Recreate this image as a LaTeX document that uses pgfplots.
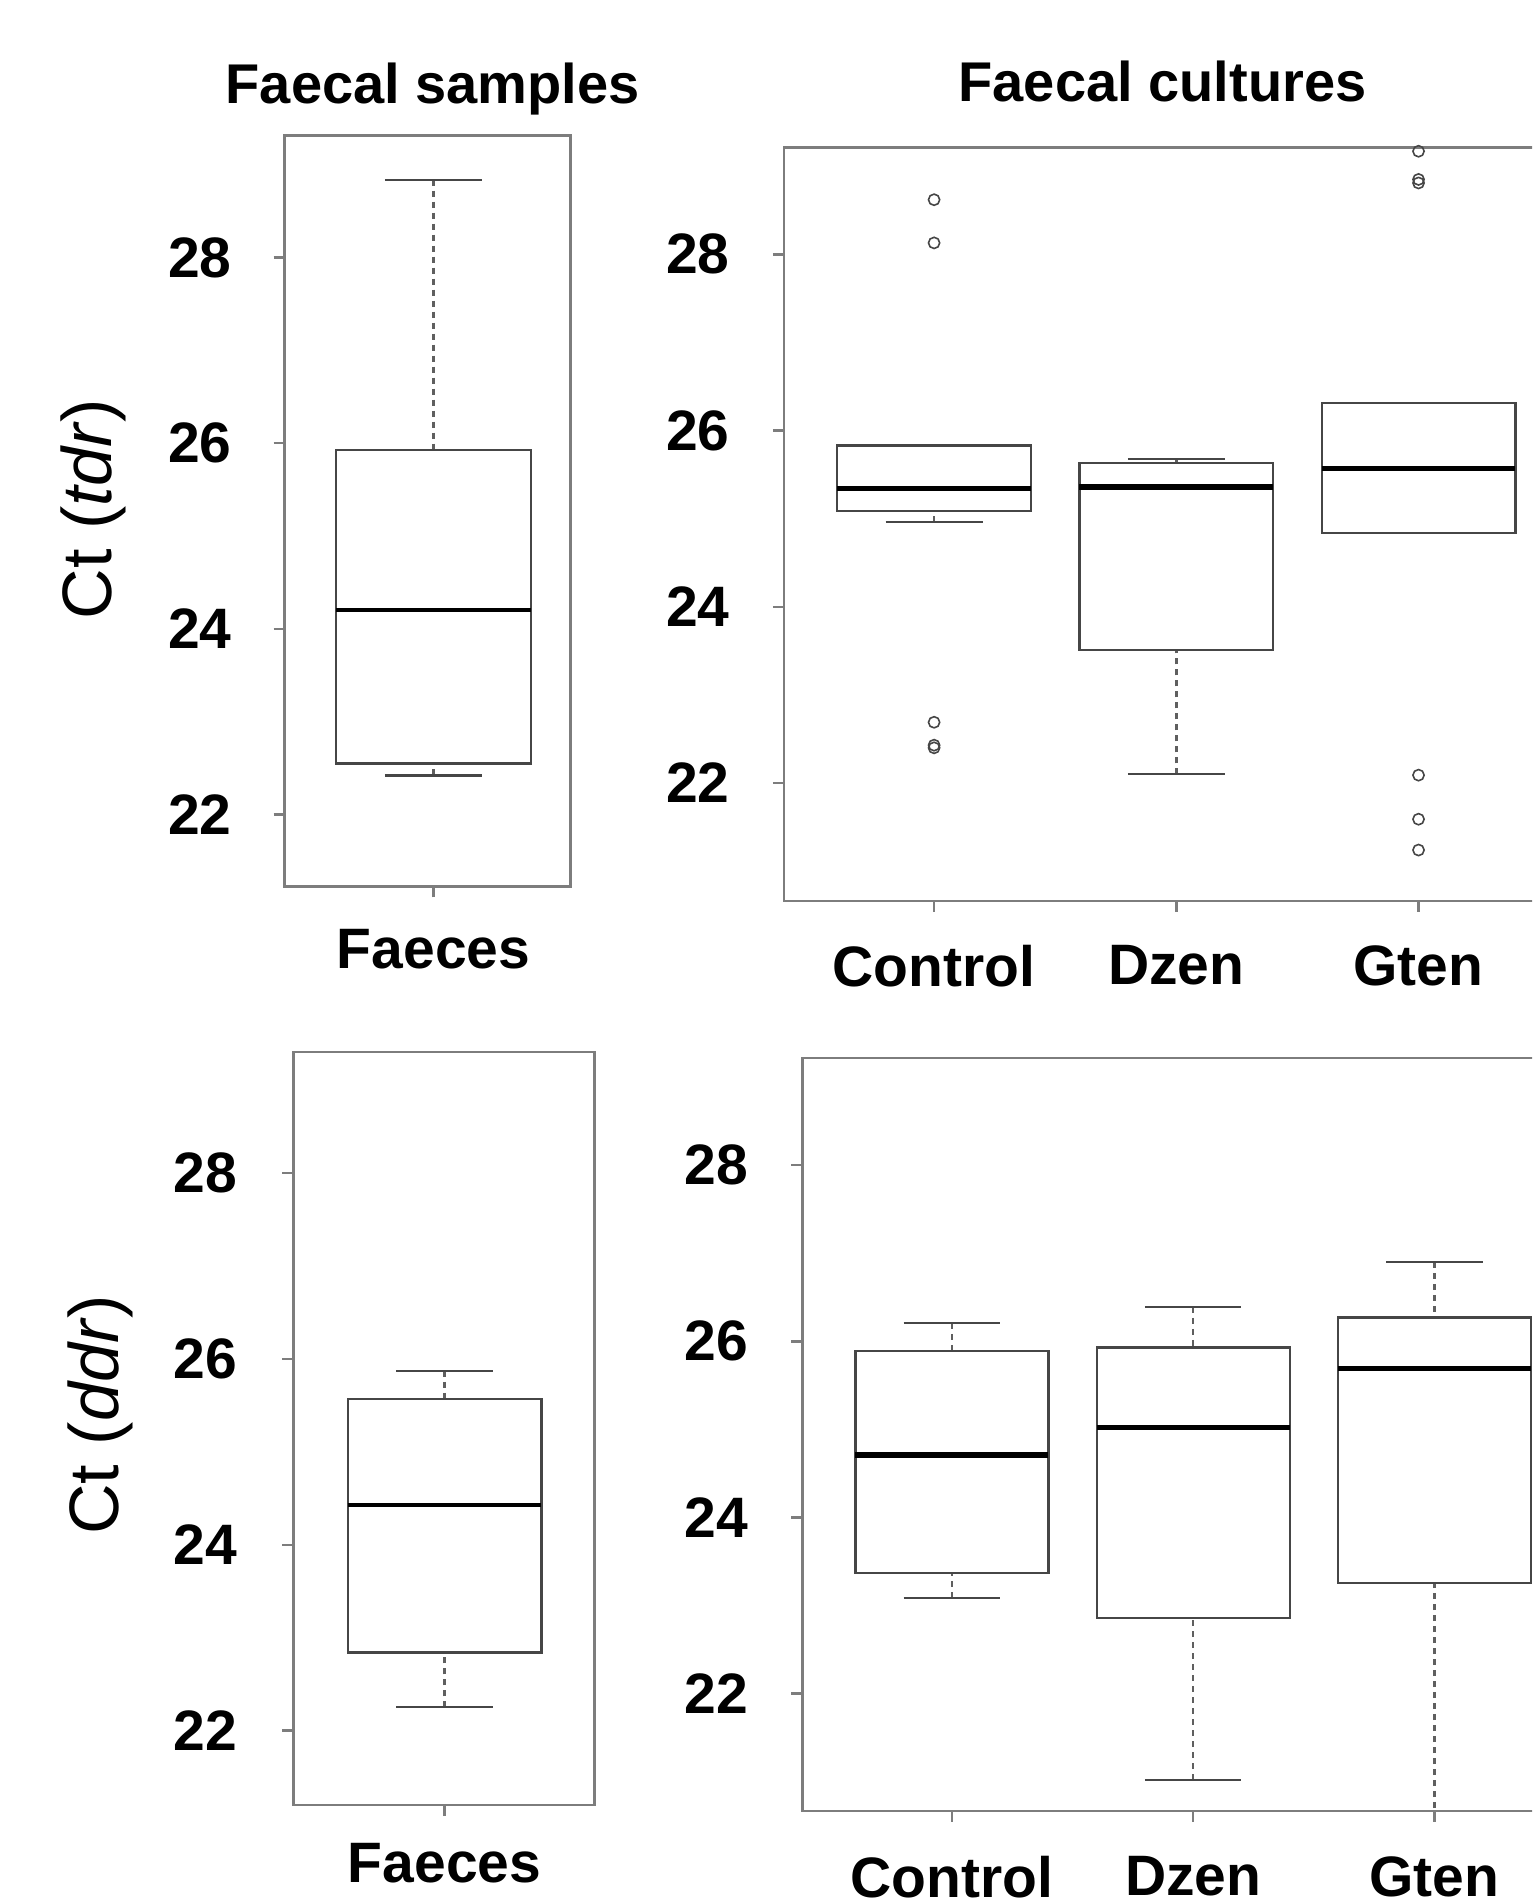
\documentclass[border=0pt]{standalone}
\usepackage{pgfplots}
\pgfplotsset{compat=1.18}
\usepgfplotslibrary{statistics}
\usepackage{fontspec}
\setmainfont{Liberation Sans}
\definecolor{axgray}{RGB}{125,125,125}
\definecolor{boxgray}{RGB}{70,70,70}
\definecolor{whgray}{RGB}{95,95,95}
\pgfplotsset{
  rbox/.style={
    scale only axis,
    anchor=south west,
    axis line style={axgray, line width=1.4pt},
    tick style={axgray, line width=1.2pt},
    tick align=outside,
    major tick length=5.5pt,
    ytick={22,24,26,28},
    xtick pos=left, ytick pos=left,
    /pgf/number format/assume math mode=true,
    ticklabel style={font=\fontsize{28.5}{30}\selectfont\bfseries, inner sep=0pt},
    yticklabel style={anchor=east},
    xticklabel style={anchor=north},
    clip=true,
    boxplot/draw direction=y,
    boxplot/box extend=0.8,
    boxplot/whisker extend=0.4,
    boxplot/every box/.style={draw=boxgray, line width=1.1pt},
    boxplot/every median/.style={draw=black, line width=2.6pt},
    boxplot/draw/lower whisker/.code={%
      \draw[whgray, line width=1.2pt, dash pattern=on 3pt off 2.5pt]
        (boxplot cs:\pgfplotsboxplotvalue{lower whisker}) --
        (boxplot cs:\pgfplotsboxplotvalue{lower quartile});
      \draw[boxgray, line width=1.1pt, solid]
        (boxplot whisker cs:\pgfplotsboxplotvalue{lower whisker},0) --
        (boxplot whisker cs:\pgfplotsboxplotvalue{lower whisker},1);
    },
    boxplot/draw/upper whisker/.code={%
      \draw[whgray, line width=1.2pt, dash pattern=on 3pt off 2.5pt]
        (boxplot cs:\pgfplotsboxplotvalue{upper whisker}) --
        (boxplot cs:\pgfplotsboxplotvalue{upper quartile});
      \draw[boxgray, line width=1.1pt, solid]
        (boxplot whisker cs:\pgfplotsboxplotvalue{upper whisker},0) --
        (boxplot whisker cs:\pgfplotsboxplotvalue{upper whisker},1);
    },
  },
  outl/.style={only marks, mark=o, mark size=2.8pt, mark options={draw=boxgray, line width=0.8pt}},
}
\begin{document}
\begin{tikzpicture}
\useasboundingbox (0,0) rectangle (766pt,949pt);
\clip (0,0) rectangle (766pt,949pt);

% Panel A: faecal samples, tdr
\begin{axis}[rbox, at={(142.3pt,505.8pt)}, width=142.75pt, height=375.45pt,
  xmin=0.388, xmax=1.561, ymin=21.225, ymax=29.317,
  xtick={1}, xticklabels={Faeces},
  yticklabel shift=20.8pt, xticklabel shift=15.8pt]
\addplot[draw=boxgray, boxplot prepared={draw position=1, lower whisker=22.42, lower quartile=22.55, median=24.20, upper quartile=25.93, upper whisker=28.84}, boxplot/every median/.style={draw=black, line width=2pt}] coordinates {};
\end{axis}

% Panel B: faecal cultures, tdr
\begin{axis}[rbox, at={(391.95pt,498.5pt)}, width=392.4pt, height=376.8pt,
  xmin=0.38, xmax=3.62, ymin=20.662, ymax=29.214,
  xtick={1,2,3}, xticklabels={Control,Dzen,Gten},
  yticklabel shift=21.5pt, xticklabel shift=16.5pt]
\addplot[draw=boxgray, boxplot prepared={draw position=1, lower whisker=24.96, lower quartile=25.09, median=25.34, upper quartile=25.83, upper whisker=25.83}] coordinates {};
\addplot[draw=boxgray, boxplot prepared={draw position=2, lower whisker=22.10, lower quartile=23.51, median=25.36, upper quartile=25.63, upper whisker=25.68}] coordinates {};
\addplot[draw=boxgray, boxplot prepared={draw position=3, lower whisker=24.84, lower quartile=24.84, median=25.57, upper quartile=26.31, upper whisker=26.31}] coordinates {};
\addplot[outl] coordinates {(1,29.25) (1,28.62) (1,28.13) (1,22.69) (1,22.43) (1,22.40)
  (2,29.26) (3,29.17) (3,28.85) (3,28.81) (3,22.09) (3,21.59) (3,21.24)};
\end{axis}

% Panel C: faecal samples, ddr
\begin{axis}[rbox, at={(146.6pt,46.5pt)}, width=150.45pt, height=376.5pt,
  xmin=0.375, xmax=1.6175, ymin=21.20, ymax=29.30,
  xtick={1}, xticklabels={Faeces},
  yticklabel shift=22.2pt, xticklabel shift=13.5pt]
\addplot[draw=boxgray, boxplot prepared={draw position=1, lower whisker=22.25, lower quartile=22.84, median=24.43, upper quartile=25.57, upper whisker=25.87}, boxplot/every median/.style={draw=black, line width=2pt}] coordinates {};
\end{axis}

% Panel D: faecal cultures, ddr
\begin{axis}[rbox, at={(401.2pt,43.5pt)}, width=390.75pt, height=376.45pt,
  xmin=0.38, xmax=3.62, ymin=20.667, ymax=29.216,
  xtick={1,2,3}, xticklabels={Control,Dzen,Gten},
  yticklabel shift=21.5pt, xticklabel shift=17pt]
\addplot[draw=boxgray, boxplot prepared={draw position=1, lower whisker=23.09, lower quartile=23.37, median=24.71, upper quartile=25.89, upper whisker=26.21}] coordinates {};
\addplot[draw=boxgray, boxplot prepared={draw position=2, lower whisker=21.02, lower quartile=22.86, median=25.02, upper quartile=25.93, upper whisker=26.39}] coordinates {};
\addplot[draw=boxgray, boxplot prepared={draw position=3, lower whisker=20.20, lower quartile=23.26, median=25.69, upper quartile=26.27, upper whisker=26.90}] coordinates {};
\end{axis}

% Titles and y labels
\node[anchor=base, font=\fontsize{28}{30}\selectfont\bfseries] at (216.35pt,897pt) {Faecal samples};
\node[anchor=base, font=\fontsize{28}{30}\selectfont\bfseries] at (581.25pt,898.2pt) {Faecal cultures};
\node[rotate=90, font=\fontsize{35}{38}\selectfont] at (46.8pt,694.5pt) {Ct (\textit{tdr})};
\node[rotate=90, font=\fontsize{35}{38}\selectfont] at (50.0pt,241.6pt) {Ct (\textit{ddr})};
\end{tikzpicture}
\end{document}
